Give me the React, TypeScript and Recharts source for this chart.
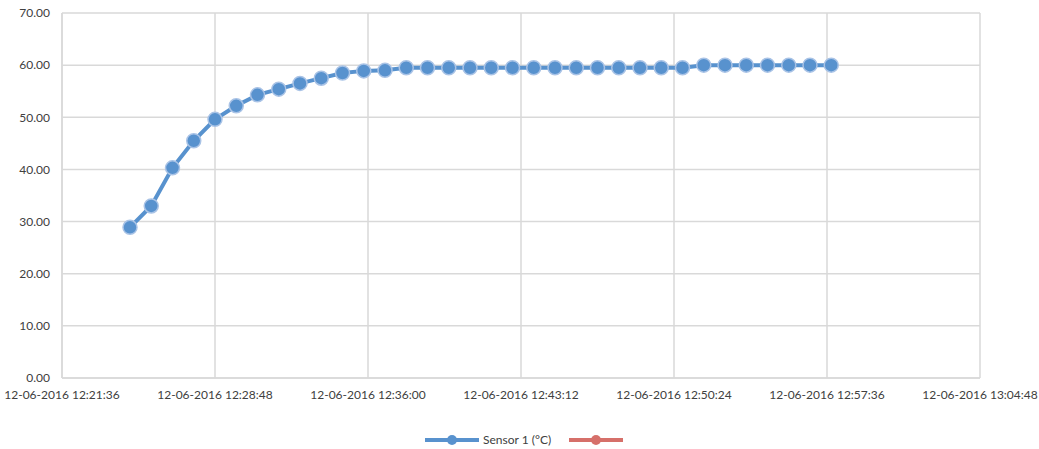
import React from 'react';
import { LineChart, Line, XAxis, YAxis, CartesianGrid } from 'recharts';

// readings taken once a minute (date 12-06-2016)
const times = [
  '12:24:48', '12:25:48', '12:26:48', '12:27:48', '12:28:48', '12:29:48', '12:30:48',
  '12:31:48', '12:32:48', '12:33:48', '12:34:48', '12:35:48', '12:36:48', '12:37:48',
  '12:38:48', '12:39:48', '12:40:48', '12:41:48', '12:42:48', '12:43:48', '12:44:48',
  '12:45:48', '12:46:48', '12:47:48', '12:48:48', '12:49:48', '12:50:48', '12:51:48',
  '12:52:48', '12:53:48', '12:54:48', '12:55:48', '12:56:48', '12:57:48',
];
const sensor1 = [
  28.9, 33.0, 40.3, 45.5, 49.6, 52.2, 54.3, 55.4, 56.5, 57.5, 58.5, 58.9, 59.0, 59.5,
  59.5, 59.5, 59.5, 59.5, 59.5, 59.5, 59.5, 59.5, 59.5, 59.5, 59.5, 59.5, 59.5, 60.0,
  60.0, 60.0, 60.0, 60.0, 60.0, 60.0,
];
const xTicks = ['12:21:36', '12:28:48', '12:36:00', '12:43:12', '12:50:24', '12:57:36', '13:04:48'];
const yTicks = [0, 10, 20, 30, 40, 50, 60, 70];
const datePrefix = '12-06-2016';

const BLUE = '#5892CE';
const RED = '#D6706A';
const GRID = '#D9D9D9';
const TEXT = '#404040';

const toSec = (t: string) => {
  const [h, m, s] = t.split(':').map(Number);
  return h * 3600 + m * 60 + s;
};
const pad = (n: number) => String(n).padStart(2, '0');
const fmtTime = (v: number) =>
  `${datePrefix} ${pad(Math.floor(v / 3600))}:${pad(Math.floor((v % 3600) / 60))}:${pad(v % 60)}`;

const data = times.map((t, i) => ({ t: toSec(t), sensor1: sensor1[i] }));
const tickSecs = xTicks.map(toSec);

const LegendKey = ({ color }: { color: string }) => (
  <svg width={54} height={12}>
    <line x1={0} y1={6} x2={54} y2={6} stroke={color} strokeWidth={4} />
    <circle cx={27} cy={6} r={5} fill={color} />
  </svg>
);

export default function App() {
  return (
    <div style={{ position: 'absolute', left: 0, top: 0, width: 1039, height: 449, background: '#fff', fontFamily: 'Lato, sans-serif' }}>
      <LineChart width={1039} height={449} data={data} margin={{ top: 13, right: 59, bottom: 41, left: 0 }}>
        <CartesianGrid stroke={GRID} strokeWidth={1.5} verticalValues={tickSecs} horizontalValues={yTicks} />
        <XAxis
          dataKey="t"
          type="number"
          domain={[tickSecs[0], tickSecs[tickSecs.length - 1]]}
          ticks={tickSecs}
          tickFormatter={fmtTime}
          interval={0}
          height={30}
          tickSize={0}
          tickMargin={12}
          stroke={GRID}
          strokeWidth={1.5}
          tick={{ fill: TEXT, fontSize: 12 }}
        />
        <YAxis
          type="number"
          domain={[0, 70]}
          ticks={yTicks}
          tickFormatter={(v: number) => v.toFixed(2)}
          width={62}
          tickSize={0}
          tickMargin={12}
          stroke={GRID}
          strokeWidth={1.5}
          tick={{ fill: TEXT, fontSize: 12 }}
        />
        <Line
          type="linear"
          dataKey="sensor1"
          stroke={BLUE}
          strokeWidth={4}
          dot={{ r: 7, fill: BLUE, stroke: '#A9C3E6', strokeWidth: 1.5 }}
          isAnimationActive={false}
        />
      </LineChart>
      <div style={{ position: 'absolute', left: 425, top: 432, display: 'flex', alignItems: 'center', fontSize: 12, color: TEXT }}>
        <LegendKey color={BLUE} />
        <span style={{ marginLeft: 4, marginRight: 18 }}>Sensor 1 (°C)</span>
        <LegendKey color={RED} />
      </div>
    </div>
  );
}
